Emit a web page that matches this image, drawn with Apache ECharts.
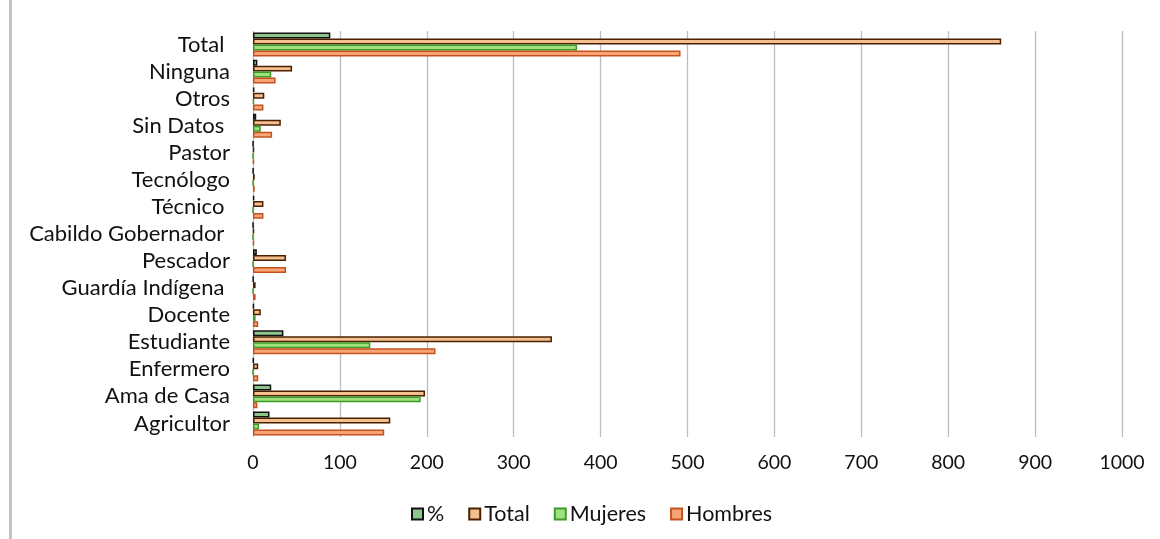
<!DOCTYPE html>
<html><head><meta charset="utf-8">
<script src="https://cdn.jsdelivr.net/npm/echarts@6/dist/echarts.min.js"></script>
<style>html,body{margin:0;padding:0;background:#fff}#c{width:1160px;height:539px}
#bar{position:absolute;left:9px;top:0;width:3px;height:539px;background:#c4c4c4}</style>
</head><body><div id="bar"></div><div id="c"></div>
<script>
const categories = ['Total ','Ninguna','Otros','Sin Datos ','Pastor','Tecnólogo','Técnico ','Cabildo Gobernador ','Pescador','Guardía Indígena ','Docente','Estudiante','Enfermero','Ama de Casa','Agricultor'];
const pct     = [89, 5, 1.5, 3.7, 0.1, 0.2, 1.4, 0.1, 4.4, 0.3, 1, 35, 0.7, 21, 19];
const total   = [861, 45, 13, 32, 1, 2, 12, 1, 38, 3, 9, 344, 6, 198, 158];
const mujeres = [373, 21, 1, 9, 0, 0, 0, 0, 0, 0, 3, 135, 0, 193, 7];
const hombres = [492, 26, 12, 22, 1, 2, 12, 1, 38, 3, 6, 210, 6, 5, 151];
const xTicks = [0,100,200,300,400,500,600,700,800,900,1000];

const font = 'Lato, "Open Sans", sans-serif';
function s(name, data, fill, border){
  return {name, type:'bar', data, barGap:'0%', barCategoryGap:'12%',
    itemStyle:{color:fill, borderColor:border, borderWidth:1.5}};
}
const chart = echarts.init(document.getElementById('c'));
chart.setOption({
  animation:false,
  grid:{left:253, right:38, top:31, bottom:102, containLabel:false},
  legend:{top:498, left:406, icon:'rect', itemWidth:11, itemHeight:11, itemGap:24,
    textStyle:{fontFamily:font, fontSize:21.5, color:'#111', padding:[0,0,0,-1]},
    data:['%','Total','Mujeres','Hombres']},
  xAxis:{type:'value', min:0, max:1000, interval:100,
    axisLine:{show:false}, axisTick:{show:false},
    splitLine:{lineStyle:{color:'#bdbdbd', width:1.3}},
    axisLabel:{fontFamily:font, fontSize:19.5, color:'#111', margin:16,
      formatter:v=> xTicks.includes(v)? String(v):''}},
  yAxis:{type:'category', data:categories, inverse:true,
    axisLine:{show:false}, axisTick:{show:false},
    axisLabel:{fontFamily:font, fontSize:22, color:'#111', margin:23, interval:0}},
  series:[
    s('%', pct, '#8dc58a', '#111'),
    s('Total', total, '#f4bf8e', '#4a2000'),
    s('Mujeres', mujeres, '#9de27c', '#3f9a2a'),
    s('Hombres', hombres, '#f8a477', '#c4521c')
  ]
});
</script></body></html>
